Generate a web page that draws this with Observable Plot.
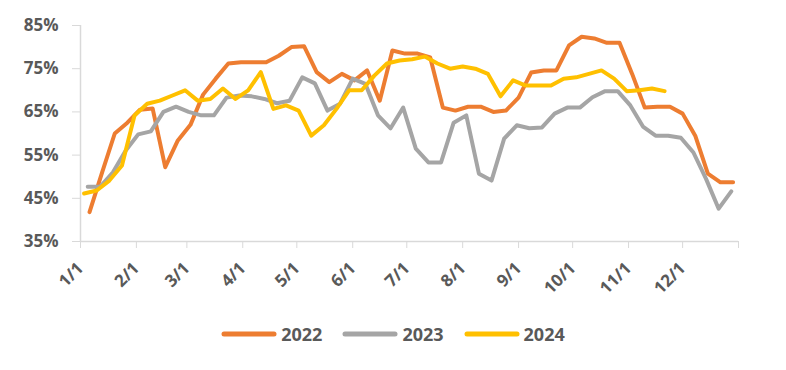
<!DOCTYPE html>
<html><head><meta charset="utf-8">
<script src="https://cdn.jsdelivr.net/npm/d3@7"></script>
<script src="https://cdn.jsdelivr.net/npm/@observablehq/plot@0.6"></script>
<style>
body{margin:0;background:#fff;font-family:"Open Sans",sans-serif;}
#legend{display:flex;justify-content:center;align-items:center;margin-top:22px;height:24px;color:#595959;font-weight:700;font-size:18px;}
.item{display:flex;align-items:center;margin:0 10px;}
.item svg{margin-right:4px;}
</style></head><body><div id="chart"></div>
<script>
const years = ["2022", "2023", "2024"];
const colors = ["#ED7D31", "#A5A5A5", "#FFC000"];
// first weekly reading: day offset after Jan 1
const startOffsets = [5, 4, 2];
const v2022 = [41.8, 51, 60, 62.5, 65.5, 65.8, 52.2, 58.4, 62, 69, 72.7, 76.2, 76.5, 76.5, 76.5, 78, 80, 80.2, 74.2, 71.9, 73.8, 72.3, 74.6, 67.6, 79.2, 78.5, 78.5, 77.6, 66, 65.3, 66.2, 66.2, 65, 65.3, 68.3, 74.1, 74.6, 74.6, 80.4, 82.4, 82, 81, 81, 73.8, 66, 66.2, 66.2, 64.6, 59.5, 50.7, 48.7, 48.7];
const v2023 = [47.7, 47.7, 51, 56, 59.8, 60.5, 65, 66.2, 65, 64.2, 64.2, 68.3, 68.8, 68.6, 68, 67, 67.6, 73, 71.6, 65.3, 66.9, 72.7, 71.5, 64.2, 61.2, 66, 56.5, 53.3, 53.3, 62.5, 64.2, 50.7, 49.1, 58.8, 61.9, 61.2, 61.4, 64.6, 66, 66, 68.4, 69.8, 69.8, 66.5, 61.6, 59.5, 59.5, 59, 55.6, 49.5, 42.6, 46.6];
const v2024 = [46.1, 46.8, 49.1, 52.6, 64.2, 66.9, 67.6, 68.8, 70, 67.6, 68, 70.4, 68, 70, 74.2, 65.7, 66.5, 65.3, 59.5, 61.9, 65.7, 70, 70, 73.4, 76.2, 76.9, 77.2, 77.8, 76.2, 75, 75.5, 75, 73.8, 68.6, 72.3, 71.1, 71.1, 71.1, 72.7, 73, 73.8, 74.6, 72.7, 69.8, 70, 70.4, 69.8];
const yTicks = [0.35, 0.45, 0.55, 0.65, 0.75, 0.85];
const monthLabels = ["1/1","2/1","3/1","4/1","5/1","6/1","7/1","8/1","9/1","10/1","11/1","12/1",""];

const seriesVals = [v2022, v2023, v2024];
const data = [];
seriesVals.forEach((vals, s) => {
  vals.forEach((v, i) => {
    data.push({year: years[s], date: new Date(Date.UTC(2023, 0, 1 + startOffsets[s] + 7 * i)), value: v / 100});
  });
});
const x0 = new Date(Date.UTC(2023, 0, 1)), x1 = new Date(Date.UTC(2024, 0, 1));
const monthTicks = d3.utcMonth.range(x0, new Date(Date.UTC(2024, 0, 2)));

const plot = Plot.plot({
  width: 786, height: 300,
  marginLeft: 80, marginRight: 48, marginTop: 25, marginBottom: 59,
  style: {fontFamily: "'Open Sans', sans-serif", fontWeight: 700, color: "#595959", background: "#fff"},
  x: {type: "utc", domain: [x0, x1]},
  y: {domain: [0.35, 0.85]},
  color: {domain: years, range: colors},
  marks: [
    Plot.ruleX([x0], {stroke: "#d9d9d9", strokeWidth: 1.5}),
    Plot.ruleY([0.35], {stroke: "#d9d9d9", strokeWidth: 1.5}),
    Plot.axisY({ticks: yTicks, tickFormat: d3.format(".0%"), tickSize: 8, tickPadding: 14, stroke: "#d9d9d9", label: null, fontSize: 17, fill: "#595959"}),
    Plot.axisX({ticks: monthTicks, tickFormat: (d, i) => monthLabels[i], tickRotate: -45, tickSize: 7, tickPadding: 17, stroke: "#d9d9d9", label: null, fontSize: 17, fill: "#595959"}),
    Plot.line(data, {x: "date", y: "value", z: "year", stroke: "year", strokeWidth: 4, strokeLinejoin: "round", strokeLinecap: "round"})
  ]
});
document.getElementById("chart").appendChild(plot);

const legend = document.createElement("div");
legend.id = "legend";
years.forEach((y, i) => {
  const item = document.createElement("div");
  item.className = "item";
  item.innerHTML = `<svg width="56" height="10"><line x1="3" y1="5" x2="53" y2="5" stroke="${colors[i]}" stroke-width="5" stroke-linecap="round"/></svg><span>${y}</span>`;
  legend.appendChild(item);
});
document.body.appendChild(legend);
</script></body></html>
